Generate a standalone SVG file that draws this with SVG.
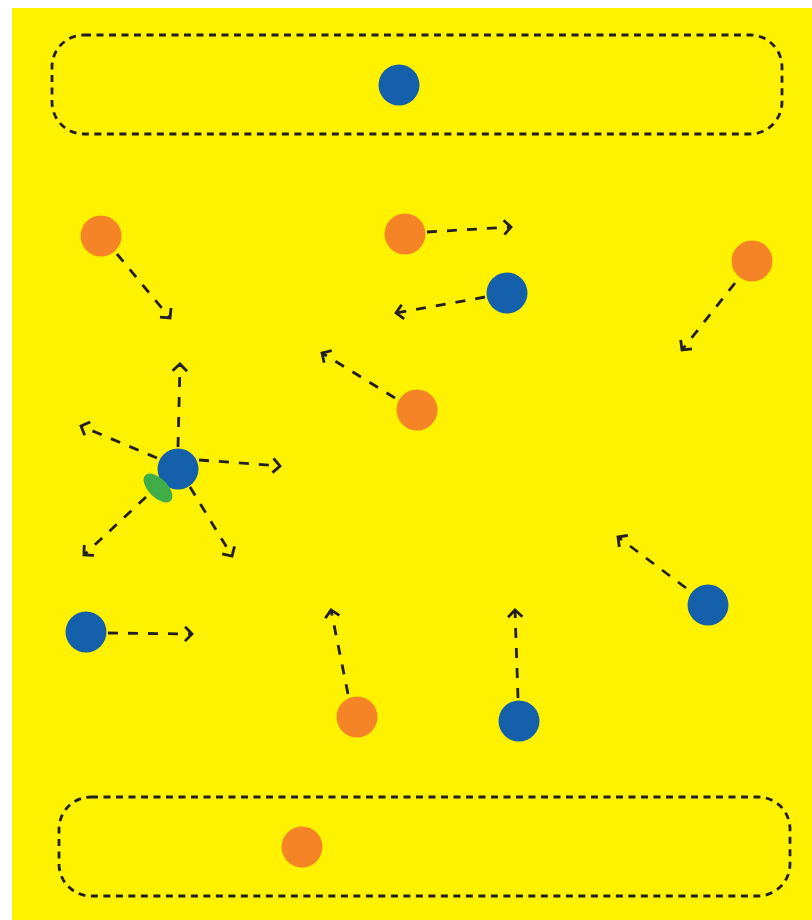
<svg xmlns="http://www.w3.org/2000/svg" width="812" height="920" viewBox="0 0 812 920">
<style>
.bg{fill:#FFF200}
.zone{fill:none;stroke:#231F20;stroke-width:2.8;stroke-dasharray:7 5.5}
.o{fill:#F58426}
.b{fill:#1460AA}
.g{fill:#3FAE49}
.c{fill:none;stroke:#231F20;stroke-width:2.8;stroke-dasharray:10 10;marker-end:url(#ah)}
</style>
<defs>
<marker id="ah" markerUnits="userSpaceOnUse" markerWidth="20" markerHeight="20" refX="10" refY="10" orient="auto" viewBox="0 0 20 20">
<path d="M3,2.8 L10,10 L3,17.2" fill="none" stroke="#231F20" stroke-width="2.8"/>
</marker>
</defs>
<rect class="bg" x="12" y="8" width="800" height="912"/>
<g id="zone-top"><rect class="zone" x="52" y="35" width="730" height="99" rx="32"/></g>
<g id="zone-bottom"><rect class="zone" x="59" y="797" width="731" height="99" rx="32"/></g>
<g id="connectors">
<line class="c" x1="117" y1="254" x2="170" y2="318"/>
<line class="c" x1="427" y1="232" x2="511" y2="227"/>
<line class="c" x1="485" y1="297" x2="396" y2="313"/>
<line class="c" x1="735" y1="283" x2="682" y2="350"/>
<line class="c" x1="395" y1="398" x2="322" y2="353"/>
<line class="c" x1="178" y1="447" x2="180" y2="364"/>
<line class="c" x1="157" y1="458" x2="81" y2="426"/>
<line class="c" x1="199" y1="460" x2="280" y2="466"/>
<line class="c" x1="190" y1="487" x2="232" y2="556"/>
<line class="c" x1="146" y1="497" x2="84" y2="555"/>
<line class="c" x1="108" y1="633" x2="192" y2="634"/>
<line class="c" x1="348" y1="694" x2="331" y2="610"/>
<line class="c" x1="518" y1="698" x2="515" y2="610"/>
<line class="c" x1="686" y1="588" x2="618" y2="537"/>
</g>
<g id="n1"><circle class="b" cx="399" cy="85" r="20.5"/></g>
<g id="n2"><circle class="o" cx="101" cy="236" r="20.5"/></g>
<g id="n3"><circle class="o" cx="405" cy="234" r="20.5"/></g>
<g id="n4"><circle class="b" cx="507" cy="293" r="20.5"/></g>
<g id="n5"><circle class="o" cx="752" cy="261" r="20.5"/></g>
<g id="n6"><circle class="o" cx="417" cy="410" r="20.5"/></g>
<g id="n7"><circle class="b" cx="178" cy="469" r="20.5"/><ellipse class="g" cx="158" cy="488" rx="9.5" ry="18" transform="rotate(-45 158 488)"/></g>
<g id="n8"><circle class="b" cx="86" cy="632" r="20.5"/></g>
<g id="n9"><circle class="o" cx="357" cy="717" r="20.5"/></g>
<g id="n10"><circle class="b" cx="519" cy="721" r="20.5"/></g>
<g id="n11"><circle class="b" cx="708" cy="605" r="20.5"/></g>
<g id="n12"><circle class="o" cx="302" cy="847" r="20.5"/></g>
</svg>
